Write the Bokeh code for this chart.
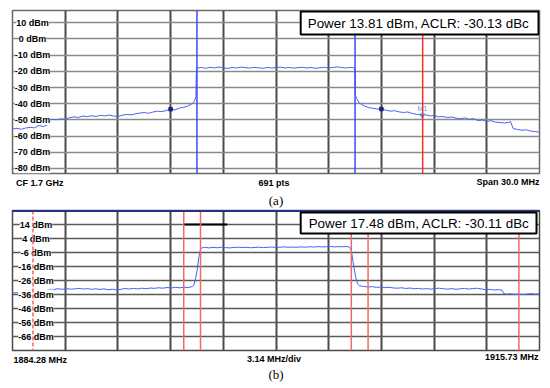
from bokeh.plotting import figure
from bokeh.models import ColumnDataSource, Span, Label, LabelSet, FixedTicker, Range1d
from bokeh.layouts import column
from bokeh.embed import file_html
from bokeh.resources import INLINE
from bokeh.core.properties import value

SANS = "Liberation Sans"
SERIF = "Liberation Serif"

# ---------------- panel (a) data ----------------
freq_a = [-15.00, -14.75, -14.50, -14.25, -14.00, -13.75, -13.50, -13.25, -13.00, -12.90,
          -12.75, -12.50, -12.25, -12.00, -11.75, -11.50, -11.25, -11.00, -10.75, -10.50,
          -10.25, -10.00, -9.75, -9.50, -9.25, -9.00, -8.75, -8.50, -8.25, -8.00,
          -7.75, -7.50, -7.25, -7.00, -6.75, -6.50, -6.25, -6.00, -5.75, -5.50,
          -5.25, -5.00, -4.80, -4.65, -4.56, -4.54, -4.52,
          -4.50, -4.25, -4.00, -3.75, -3.50, -3.25, -3.00, -2.75, -2.50, -2.25,
          -2.00, -1.75, -1.50, -1.25, -1.00, -0.75, -0.50, -0.25, 0.00, 0.25,
          0.50, 0.75, 1.00, 1.25, 1.50, 1.75, 2.00, 2.25, 2.50, 2.75,
          3.00, 3.25, 3.50, 3.75, 4.00, 4.25, 4.48, 4.50, 4.52, 4.60,
          4.75, 5.00, 5.25, 5.50, 5.75, 6.00, 6.25, 6.50, 6.75, 7.00,
          7.25, 7.50, 7.75, 8.00, 8.25, 8.50, 8.75, 9.00, 9.25, 9.50,
          9.75, 10.00, 10.25, 10.50, 10.75, 11.00, 11.25, 11.50, 11.75, 12.00,
          12.25, 12.50, 12.75, 13.00, 13.25, 13.35, 13.50, 13.75, 14.00, 14.25,
          14.50, 14.75, 15.00]
level_a = [-55.6, -55.2, -55.8, -55.0, -54.6, -54.9, -53.4, -54.1, -53.0, -50.2,
           -49.6, -49.9, -49.3, -49.7, -48.6, -48.1, -48.5, -47.6, -48.0, -47.4,
           -47.9, -47.2, -47.5, -47.0, -47.6, -47.9, -47.1, -46.6, -46.9, -46.2,
           -45.8, -45.4, -45.9, -45.1, -44.6, -44.9, -44.2, -43.4, -43.8, -42.7,
           -42.2, -41.3, -40.2, -38.5, -35.8, -23.0, -18.2,
           -17.9, -17.6, -18.1, -17.5, -17.9, -17.3, -17.8, -18.2, -17.6, -17.9,
           -17.4, -17.7, -18.0, -17.5, -17.8, -18.1, -17.6, -17.9, -17.7, -17.4,
           -17.9, -17.6, -18.0, -17.7, -17.5, -17.9, -17.6, -18.1, -17.8, -17.5,
           -17.9, -17.6, -17.2, -17.7, -17.9, -17.6, -17.8, -21.5, -34.8, -37.0,
           -39.6, -41.2, -42.3, -42.8, -43.2, -43.6, -43.9, -44.6, -44.3, -45.0,
           -45.4, -45.1, -46.0, -46.5, -47.0, -46.8, -47.5, -47.3, -48.1, -47.9,
           -48.5, -48.2, -48.9, -49.3, -48.7, -49.6, -49.2, -50.4, -50.1, -50.9,
           -50.5, -51.4, -51.6, -51.9, -51.5, -51.0, -55.3, -55.9, -56.4, -56.1,
           -56.9, -57.2, -57.6]
ylev_a = [10, 0, -10, -20, -30, -40, -50, -60, -70, -80]
ylab_a = ["10 dBm", "0 dBm", "-10 dBm", "-20 dBm", "-30 dBm", "-40 dBm",
          "-50 dBm", "-60 dBm", "-70 dBm", "-80 dBm"]
xgrid_a = [-12, -9, -6, -3, 0, 3, 6, 9, 12]
chan_a = [-4.5, 4.5]
red_a = [8.35]
sq_x_a = [-6.0, 6.0]
sq_y_a = [-43.4, -43.3]
m1_x = [8.33]
m1_y = [-47.2]
xr_a = (-15.0, 15.0)
yr_a = (-83.1, 17.6)
legend_a = "Power 13.81 dBm, ACLR: -30.13 dBc"
bottom_a = ["CF 1.7 GHz", "691 pts", "Span 30.0 MHz"]

# ---------------- panel (b) data ----------------
freq_b = [1884.28, 1884.50, 1884.75, 1885.00, 1885.25, 1885.50, 1885.75, 1886.00, 1886.25, 1886.50,
          1886.75, 1887.00, 1887.25, 1887.50, 1887.75, 1888.00, 1888.25, 1888.50, 1888.75, 1889.00,
          1889.25, 1889.50, 1889.75, 1890.00, 1890.25, 1890.50, 1890.75, 1891.00, 1891.25, 1891.50,
          1891.75, 1892.00, 1892.25, 1892.50, 1892.75, 1893.00, 1893.25, 1893.50, 1893.75, 1894.00,
          1894.25, 1894.50, 1894.75, 1895.00, 1895.10, 1895.20, 1895.30, 1895.40, 1895.50, 1895.60,
          1895.75, 1896.00, 1896.25, 1896.50, 1896.75, 1897.00, 1897.25, 1897.50, 1897.75, 1898.00,
          1898.25, 1898.50, 1898.75, 1899.00, 1899.25, 1899.50, 1899.75, 1900.00, 1900.25, 1900.50,
          1900.75, 1901.00, 1901.25, 1901.50, 1901.75, 1902.00, 1902.25, 1902.50, 1902.75, 1903.00,
          1903.25, 1903.50, 1903.75, 1904.00, 1904.25, 1904.40, 1904.50, 1904.60, 1904.70, 1904.80,
          1904.90, 1905.00, 1905.25, 1905.50, 1905.75, 1906.00, 1906.25, 1906.50, 1906.75, 1907.00,
          1907.25, 1907.50, 1907.75, 1908.00, 1908.25, 1908.50, 1908.75, 1909.00, 1909.25, 1909.50,
          1909.75, 1910.00, 1910.25, 1910.50, 1910.75, 1911.00, 1911.25, 1911.50, 1911.75, 1912.00,
          1912.25, 1912.50, 1912.75, 1913.00, 1913.25, 1913.50, 1913.60, 1913.75, 1914.00, 1914.25,
          1914.50, 1914.75, 1915.00, 1915.25, 1915.50, 1915.73]
level_b = [-35.1, -34.7, -35.2, -34.8, -34.5, -34.9, -34.4, -34.6, -33.6, -32.3,
           -32.4, -31.9, -32.3, -31.8, -32.2, -32.0, -31.6, -32.1, -31.8, -32.3,
           -31.9, -32.4, -32.0, -32.6, -32.2, -32.8, -32.3, -31.7, -32.1, -31.6,
           -32.0, -31.5, -31.9, -31.4, -31.6, -31.2, -31.5, -31.0, -31.3, -30.9,
           -31.2, -30.8, -31.0, -30.4, -29.4, -25.0, -18.5, -9.5, -3.6, -2.6,
           -2.3, -2.7, -2.4, -2.6, -2.3, -2.5, -2.7, -2.4, -2.2, -2.5,
           -2.3, -2.6, -2.4, -2.2, -2.5, -2.3, -2.1, -2.4, -2.2, -2.0,
           -2.3, -2.1, -2.3, -2.0, -2.2, -1.9, -2.1, -1.8, -2.0, -1.9,
           -1.7, -2.0, -1.8, -1.9, -1.7, -2.2, -4.5, -12.5, -19.5, -25.8,
           -28.8, -29.8, -30.3, -30.6, -30.4, -30.9, -30.6, -31.1, -30.8, -31.3,
           -31.5, -31.2, -31.7, -31.4, -31.9, -31.6, -32.1, -31.8, -32.2, -31.7,
           -31.5, -31.9, -32.2, -31.8, -32.3, -31.9, -31.6, -32.1, -31.8, -31.5,
           -32.0, -32.6, -32.3, -32.8, -32.5, -33.0, -35.4, -35.8, -35.5, -35.9,
           -35.6, -36.0, -35.7, -35.4, -35.8, -35.6]
ylev_b = [14, 4, -6, -16, -26, -36, -46, -56, -66]
ylab_b = ["14 dBm", "4 dBm", "-6 dBm", "-16 dBm", "-26 dBm", "-36 dBm",
          "-46 dBm", "-56 dBm", "-66 dBm"]
xgrid_b = [1887.425, 1890.57, 1893.715, 1896.86, 1900.005, 1903.15, 1906.295, 1909.44, 1912.585]
red_b = [1885.5, 1894.5, 1895.5, 1904.5, 1905.5, 1914.5]
red_b_dash = ["4 2", "solid", "solid", "solid", "solid", "solid"]
seg_b_x0 = [1894.5]
seg_b_x1 = [1897.1]
seg_b_y = [14]
xr_b = (1884.28, 1915.73)
yr_b = (-76.0, 24.0)
legend_b = "Power 17.48 dBm, ACLR: -30.11 dBc"
bottom_b = ["1884.28 MHz", "3.14 MHz/div", "1915.73 MHz"]

W = 550


def base_fig(height, xr, yr, bl, br, bt, bb):
    p = figure(width=W, height=height, x_range=xr, y_range=yr,
               x_axis_location=None, y_axis_location=None, toolbar_location=None,
               output_backend="svg", title=None,
               min_border_left=bl, min_border_right=br, min_border_top=bt, min_border_bottom=bb)
    p.background_fill_color = "white"
    p.border_fill_color = "white"
    return p


def text_strip(height, xr, bl, br):
    t = base_fig(height, xr, Range1d(0, height), bl, br, 0, 0)
    t.outline_line_color = None
    t.xgrid.visible = False
    t.ygrid.visible = False
    return t


def tick_labels(p, xs, levels, labels, xoff):
    src = ColumnDataSource(dict(x=[xs] * len(levels), y=levels, t=labels))
    p.add_layout(LabelSet(x="x", y="y", text="t", source=src, x_offset=xoff,
                          text_align="center", text_baseline="middle",
                          text_font=value(SANS), text_font_style="bold",
                          text_font_size="9px", text_color="black",
                          background_fill_color="white"))


def strip_label(t, x, y, txt, align, xoff, font=SANS, size="9px", style="bold"):
    t.add_layout(Label(x=x, y=y, text=txt, text_align=align, text_baseline="middle",
                       x_offset=xoff, text_font=font, text_font_size=size,
                       text_font_style=style, text_color="black"))


# ---------------- figure (a) ----------------
xra = Range1d(*xr_a)
pa = base_fig(175, xra, Range1d(*yr_a), 9, 10, 10, 2)
pa.xgrid.ticker = FixedTicker(ticks=xgrid_a)
pa.ygrid.ticker = FixedTicker(ticks=ylev_a)
pa.xgrid.grid_line_color = "#4a4a4a"
pa.xgrid.grid_line_width = 2
pa.ygrid.grid_line_color = "#8a8a8a"
pa.ygrid.grid_line_width = 1.5
pa.outline_line_color = "#6a6a6a"
pa.outline_line_width = 1.5

for c in chan_a:
    pa.add_layout(Span(location=c, dimension="height", line_color="#3a4cff", line_width=1.5))
for r in red_a:
    pa.add_layout(Span(location=r, dimension="height", line_color="#ff2a2a", line_width=1.5))

pa.line(freq_a, level_a, line_color="#4f5ff5", line_width=1)
pa.scatter(sq_x_a, sq_y_a, marker="square", size=3.5, color="#1a237e")
pa.scatter(m1_x, m1_y, marker="inverted_triangle", size=5, color="#3aa8e8")
pa.text(m1_x, m1_y, text=["M1"], y_offset=-3, text_align="center", text_baseline="bottom",
        text_font=value(SANS), text_font_size="7px", text_color="#3aa8e8")

tick_labels(pa, xr_a[0], ylev_a, ylab_a, 20)

pa.add_layout(Label(x=xr_a[1], y=yr_a[1], text=legend_a, text_align="right", text_baseline="top",
                    x_offset=-1, y_offset=-1, padding=dict(left=7, right=9, top=4, bottom=4),
                    text_font=SANS, text_font_size="13.4px",
                    text_color="black", background_fill_color="white",
                    border_line_color="black", border_line_width=2))

ta = text_strip(33, xra, 9, 10)
strip_label(ta, xr_a[0], 25.3, bottom_a[0], "left", 3.5)
strip_label(ta, 0.0, 25.3, bottom_a[1], "center", -2)
strip_label(ta, xr_a[1], 26.3, bottom_a[2], "right", 0)
strip_label(ta, 0.0, 8.5, "(a)", "center", 0, font=SERIF, size="13px", style="normal")

# ---------------- figure (b) ----------------
xrb = Range1d(*xr_b)
pb = base_fig(144, xrb, Range1d(*yr_b), 12, 11, 2, 2)
pb.xgrid.ticker = FixedTicker(ticks=xgrid_b)
pb.ygrid.ticker = FixedTicker(ticks=ylev_b)
pb.xgrid.grid_line_color = "#4a4a4a"
pb.xgrid.grid_line_width = 2
pb.ygrid.grid_line_color = "#5a5a5a"
pb.ygrid.grid_line_width = 1.5
pb.outline_line_color = "#4a4a4a"
pb.outline_line_width = 1.5

pb.segment(x0=seg_b_x0, y0=seg_b_y, x1=seg_b_x1, y1=seg_b_y, line_color="black", line_width=2)
pb.line(freq_b, level_b, line_color="#4262ff", line_width=1)

tick_labels(pb, xr_b[0], ylev_b, ylab_b, 23.5)

for r, d in zip(red_b, red_b_dash):
    pb.add_layout(Span(location=r, dimension="height", line_color="#f26868", line_width=1.5,
                       line_dash=d))
pb.add_layout(Span(location=yr_b[1], dimension="width", line_color="#1a2a9a", line_width=3))

pb.add_layout(Label(x=xr_b[1], y=yr_b[1], text=legend_b, text_align="right", text_baseline="top",
                    x_offset=-3, y_offset=-2, padding=dict(left=8, right=7, top=3, bottom=3),
                    text_font=SANS, text_font_size="13.4px",
                    text_color="black", background_fill_color="white",
                    border_line_color="black", border_line_width=2))

tb = text_strip(36, xrb, 12, 11)
strip_label(tb, xr_b[0], 29.0, bottom_b[0], "left", 1)
strip_label(tb, 1900.005, 29.7, bottom_b[1], "center", -2)
strip_label(tb, xr_b[1], 32.0, bottom_b[2], "right", -1)
strip_label(tb, 1900.005, 14.0, "(b)", "center", 0, font=SERIF, size="13px", style="normal")

layout = column(pa, ta, pb, tb, spacing=0)
open("out.html", "w").write(file_html(layout, INLINE))
